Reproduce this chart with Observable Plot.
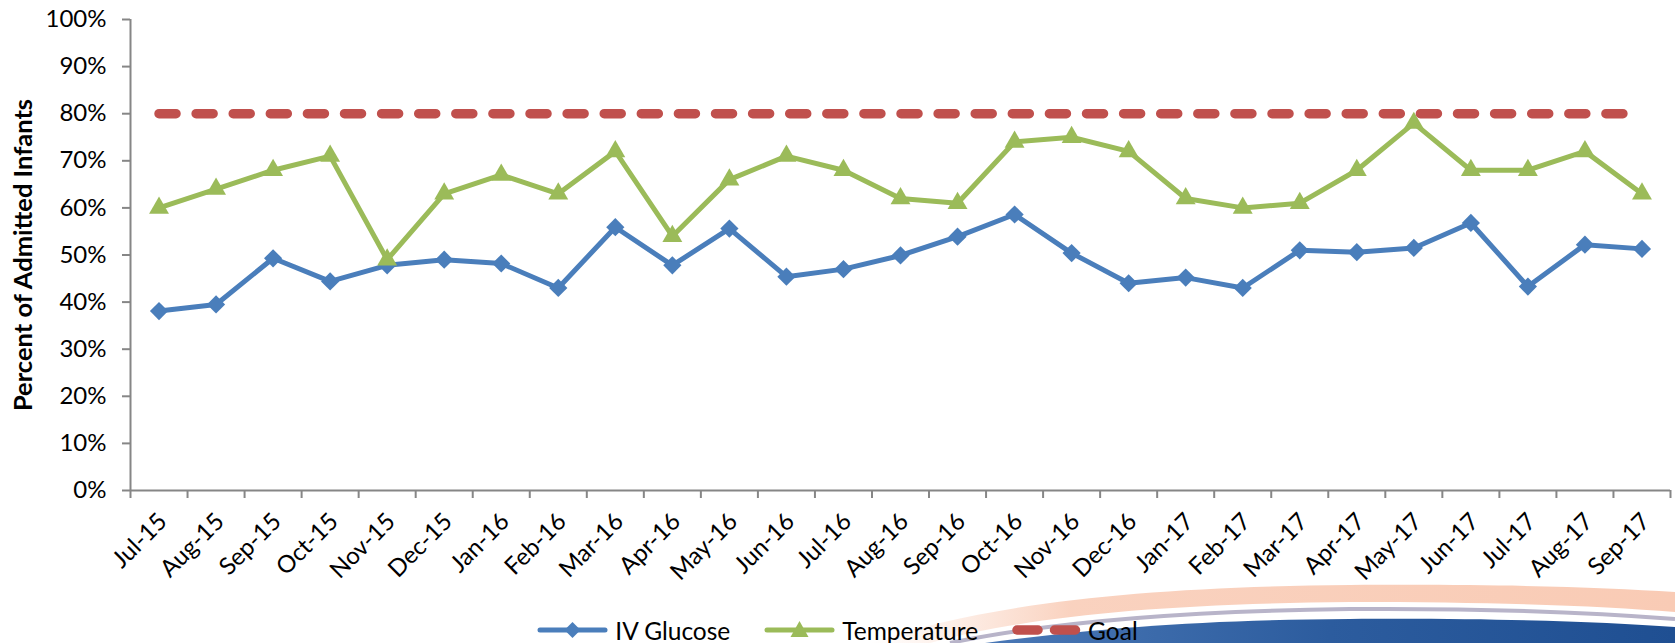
<!DOCTYPE html>
<html>
<head>
<meta charset="utf-8">
<script src="https://cdn.jsdelivr.net/npm/d3@7"></script>
<script src="https://cdn.jsdelivr.net/npm/@observablehq/plot@0.6"></script>
<style>
  html, body { margin: 0; padding: 0; background: #fff; }
  #wrap { position: relative; width: 1675px; height: 643px; overflow: hidden; font-family: Lato, "Open Sans", sans-serif; }
  #deco { position: absolute; left: 0; top: 0; z-index: 0; }
  #chart { position: absolute; left: 0; top: 0; z-index: 1; }
  #chart svg { background: transparent !important; }
  #legend { position: absolute; left: 0; top: 612px; width: 1675px; height: 36px; z-index: 2;
            display: flex; justify-content: center; align-items: center; font-size: 24.5px; color: #000; }
  #legend .item { display: flex; align-items: center; margin: 0 17px; }
  #legend .item svg { margin-right: 7px; }
</style>
</head>
<body>
<div id="wrap">
  <svg id="deco" width="1675" height="643">
    <defs>
      <linearGradient id="peach" x1="0" x2="1" y1="0" y2="0">
        <stop offset="0" stop-color="#fbd6c4" stop-opacity="0"/>
        <stop offset="0.25" stop-color="#f9cdb8" stop-opacity="0.9"/>
        <stop offset="1" stop-color="#f9cbb5"/>
      </linearGradient>
      <linearGradient id="blue" x1="0" x2="1" y1="0" y2="0">
        <stop offset="0" stop-color="#4a78b6"/>
        <stop offset="0.5" stop-color="#2c5c9e"/>
        <stop offset="1" stop-color="#1f4f92"/>
      </linearGradient>
    </defs>
    <path d="M870 643 C 990 602, 1150 587, 1350 585 C 1500 584, 1600 587, 1675 592 L 1675 612 C 1600 606, 1500 602, 1350 602 C 1160 604, 1030 616, 930 643 Z" fill="url(#peach)"/>
    <path d="M950 643 C 1050 622, 1180 611, 1350 609 C 1500 608, 1600 613, 1675 619" fill="none" stroke="#b8b4c9" stroke-width="4"/>
    <path d="M985 643 C 1100 628, 1200 620, 1350 619 C 1500 618, 1600 622, 1675 627 L 1675 643 Z" fill="url(#blue)"/>
  </svg>
  <div id="chart"></div>
  <div id="legend"></div>
</div>
<script>
// ---- data ----
const months = ["Jul-15","Aug-15","Sep-15","Oct-15","Nov-15","Dec-15","Jan-16","Feb-16","Mar-16","Apr-16","May-16","Jun-16","Jul-16","Aug-16","Sep-16","Oct-16","Nov-16","Dec-16","Jan-17","Feb-17","Mar-17","Apr-17","May-17","Jun-17","Jul-17","Aug-17","Sep-17"];
const ivGlucose = [38.1,39.5,49.3,44.4,47.8,49.0,48.2,43.0,55.9,47.8,55.6,45.4,47.0,49.9,53.9,58.6,50.4,44.0,45.2,43.0,51.0,50.6,51.5,56.8,43.3,52.2,51.3];
const temperature = [60,64,68,71,49,63,67,63,72,54,66,71,68,62,61,74,75,72,62,60,61,68,78,68,68,72,63];
const goal = 80;
const yTicks = [0,10,20,30,40,50,60,70,80,90,100];
const seriesNames = ["IV Glucose","Temperature","Goal"];
const yTitle = "Percent of Admitted Infants";

const colors = { glucose: "#4a7ebb", temp: "#9bbb59", goal: "#c0504d", axis: "#868686" };

const rows = months.map((m, i) => ({ i, month: m, glucose: ivGlucose[i], temperature: temperature[i], goal }));
const boundaries = d3.range(months.length + 1).map(k => k - 0.5);

const chart = Plot.plot({
  width: 1675,
  height: 600,
  marginLeft: 130,
  marginRight: 5,
  marginTop: 19,
  marginBottom: 110,
  x: { type: "linear", domain: [-0.5, months.length - 0.5], label: null },
  y: { domain: [0, 100], label: null },
  style: { fontFamily: "Lato, 'Open Sans', sans-serif", fontSize: "24px", color: "#000", background: "transparent" },
  marks: [
    Plot.axisY({ ticks: yTicks, tickFormat: d => d + "%", tickSize: 8, tickPadding: 16, stroke: colors.axis, strokeWidth: 2, fill: "#000", label: null }),
    Plot.axisX({ ticks: boundaries, tickFormat: () => "", tickSize: 8, stroke: colors.axis, strokeWidth: 2, label: null }),
    Plot.axisX({ ticks: d3.range(months.length), tickFormat: i => months[i], tickSize: 0, tickPadding: 27, tickRotate: -45, dx: 4, fill: "#000", label: null }),
    Plot.ruleY([0], { stroke: colors.axis, strokeWidth: 2 }),
    Plot.ruleX([-0.5], { y1: 0, y2: 100, stroke: colors.axis, strokeWidth: 2 }),
    Plot.text([yTitle], { text: d => d, frameAnchor: "left", dx: -107, rotate: -90, fontWeight: "bold", fontSize: 25.5, textAnchor: "middle", lineAnchor: "middle", fill: "#000" }),
    Plot.line(rows, { x: "i", y: "glucose", stroke: colors.glucose, strokeWidth: 5, strokeLinejoin: "round" }),
    Plot.dot(rows, { x: "i", y: "glucose", symbol: "diamond2", r: 8.2, fill: colors.glucose, stroke: "none" }),
    Plot.line(rows, { x: "i", y: "temperature", stroke: colors.temp, strokeWidth: 5, strokeLinejoin: "round" }),
    Plot.dot(rows, { x: "i", y: "temperature", symbol: "triangle2", r: 9.5, fill: colors.temp, stroke: "none" }),
    Plot.line(rows, { x: "i", y: "goal", stroke: colors.goal, strokeWidth: 9.5, strokeDasharray: "17,20.1", strokeLinecap: "round" })
  ]
});
document.getElementById("chart").appendChild(chart);

// ---- legend ----
const legend = document.getElementById("legend");
const swatches = [
  `<svg width="71" height="20"><line x1="3" y1="10" x2="68" y2="10" stroke="${colors.glucose}" stroke-width="5" stroke-linecap="round"/><path d="M35.5 2 L43.5 10 L35.5 18 L27.5 10 Z" fill="${colors.glucose}"/></svg>`,
  `<svg width="71" height="20"><line x1="3" y1="10" x2="68" y2="10" stroke="${colors.temp}" stroke-width="5" stroke-linecap="round"/><path d="M35.5 1 L44.5 17 L26.5 17 Z" fill="${colors.temp}"/></svg>`,
  `<svg width="69" height="20"><line x1="5" y1="10" x2="63.5" y2="10" stroke="${colors.goal}" stroke-width="9.5" stroke-linecap="round" stroke-dasharray="21,16.5"/></svg>`
];
seriesNames.forEach((name, k) => {
  const item = document.createElement("span");
  item.className = "item";
  item.innerHTML = swatches[k] + `<span>${name}</span>`;
  legend.appendChild(item);
});
</script>
</body>
</html>
